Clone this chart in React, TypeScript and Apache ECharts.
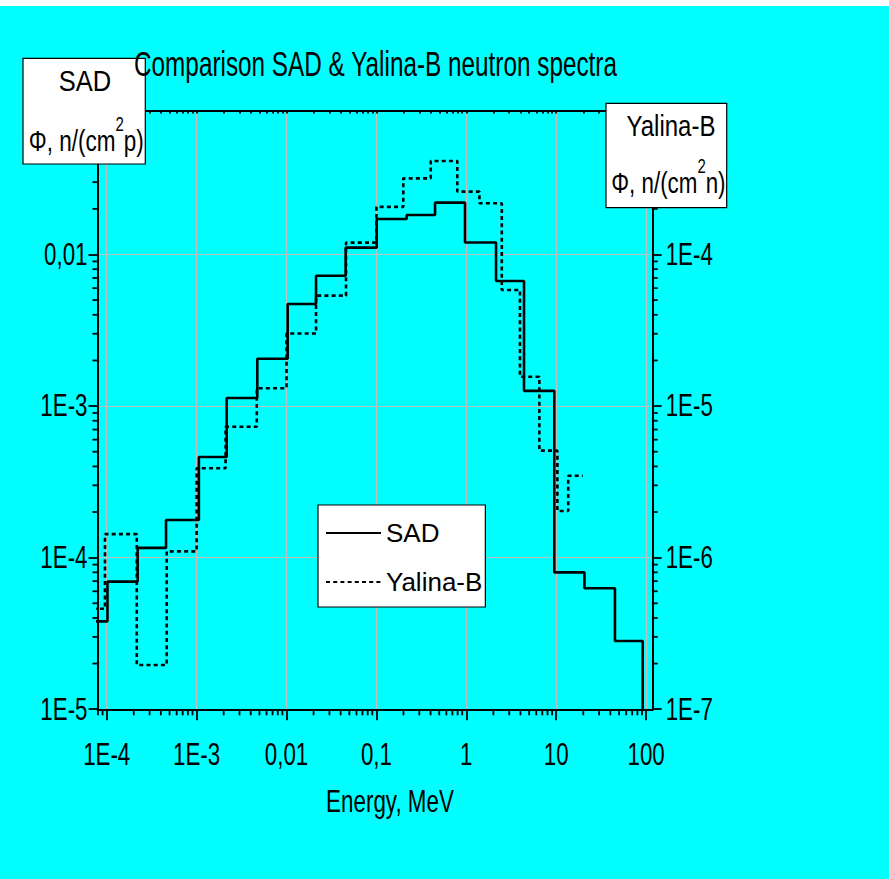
import React, { useEffect, useRef } from 'react';
import * as echarts from 'echarts';

// ---- axis ranges ----
const X_MIN = 7.9e-5;
const X_MAX = 118.3;
const Y_MIN = 9.99e-6; // left axis: SAD, n/(cm2 p)
const Y_MAX = 0.0891;
const Y2_MIN = 9.99e-8; // right axis: Yalina-B, n/(cm2 n)
const Y2_MAX = 8.91e-4;

// ---- tick labels ----
const xTickValues = [1e-4, 1e-3, 0.01, 0.1, 1, 10, 100];
const xTickLabels = ['1E-4', '1E-3', '0,01', '0,1', '1', '10', '100'];
const yTickValues = [1e-5, 1e-4, 1e-3, 0.01];
const yTickLabels = ['1E-5', '1E-4', '1E-3', '0,01'];
const y2TickValues = [1e-7, 1e-6, 1e-5, 1e-4];
const y2TickLabels = ['1E-7', '1E-6', '1E-5', '1E-4'];
const minorSteps = [2, 3, 4, 5, 6, 7, 8, 9];
const decades = [-6, -5, -4, -3, -2, -1, 0, 1, 2];

// ---- SAD spectrum (group boundaries, MeV, and flux per group) ----
const sadEdges = [7.0e-5, 1.02e-4, 2.21e-4, 4.57e-4, 1.06e-3, 2.16e-3, 4.73e-3, 0.0103, 0.0213, 0.0455, 0.1007, 0.217, 0.449, 0.967, 2.14, 4.38, 9.52, 20.6, 45, 91.6];
const sadFlux = [3.8e-5, 6.95e-5, 1.16e-4, 1.77e-4, 4.61e-4, 1.13e-3, 2.05e-3, 4.71e-3, 7.24e-3, 0.0111, 0.01714, 0.0182, 0.022, 0.012, 6.68e-3, 1.26e-3, 8.0e-5, 6.28e-5, 2.82e-5];
const sadTail = 1e-8;

// ---- Yalina-B spectrum ----
const yalEdges = [7.0e-5, 9.57e-5, 2.16e-4, 4.65e-4, 1.0e-3, 2.1e-3, 4.67e-3, 0.01, 0.0213, 0.0459, 0.1, 0.199, 0.402, 0.794, 1.4, 2.48, 3.95, 6.49, 10.3, 13.6, 19.7];
const yalFlux = [4.6e-7, 1.43e-6, 1.96e-7, 1.1e-6, 3.89e-6, 7.31e-6, 1.31e-5, 3.01e-5, 5.35e-5, 1.197e-4, 2.06e-4, 3.18e-4, 4.14e-4, 2.6e-4, 2.18e-4, 5.83e-5, 1.56e-5, 5.08e-6, 2.03e-6, 3.47e-6];

const SANS = "'Liberation Sans', Arial, sans-serif";
const LABEL_SIZE = 31;
const LABEL_SCALE = 0.72;

function stepData(edges: number[], flux: number[], tail: number) {
  return edges.map((e, i) => [e, i < flux.length ? flux[i] : tail]);
}

function minorTicks(lo: number, hi: number) {
  const out: number[] = [];
  decades.forEach((d) => {
    minorSteps.forEach((k) => {
      const v = k * Math.pow(10, d);
      if (v > lo && v < hi) out.push(v);
    });
  });
  return out;
}

const xMinor = minorTicks(X_MIN, X_MAX);
const yMinor = minorTicks(Y_MIN, Y_MAX);

const axisLine = { show: true, onZero: false, lineStyle: { color: '#000', width: 2 } };
const tickStyle = { color: '#000', width: 1.8 };

function labelText(text: string, x: number, y: number, align: string) {
  return {
    type: 'text',
    x,
    y,
    scaleX: LABEL_SCALE,
    style: {
      text,
      fontSize: LABEL_SIZE,
      fontFamily: SANS,
      fill: '#000',
      align,
      textAlign: align,
      verticalAlign: 'middle',
      textVerticalAlign: 'middle',
    },
  };
}

function textEl(text: string, x: number, y: number, size: number, sx: number) {
  return {
    type: 'text',
    x,
    y,
    scaleX: sx,
    z: 110,
    silent: true,
    style: {
      text,
      fontSize: size,
      fontFamily: SANS,
      fill: '#000',
      align: 'center',
      verticalAlign: 'middle',
      textAlign: 'center',
      textVerticalAlign: 'middle',
    },
  };
}

function unitEl(text: string, x: number, y: number, sx: number) {
  return {
    type: 'text',
    x,
    y,
    scaleX: sx,
    z: 110,
    silent: true,
    style: {
      text,
      fill: '#000',
      align: 'center',
      verticalAlign: 'middle',
      textAlign: 'center',
      textVerticalAlign: 'middle',
      rich: {
        m: { fontSize: 30, fontFamily: SANS, lineHeight: 42, verticalAlign: 'bottom', fill: '#000' },
        s: { fontSize: 20, fontFamily: SANS, lineHeight: 42, verticalAlign: 'top', fill: '#000' },
      },
    },
  };
}

export default function App() {
  const ref = useRef<HTMLDivElement>(null);
  useEffect(() => {
    const chart = echarts.init(ref.current!, null, { renderer: 'svg' });
    const option: any = {
      animation: false,
      backgroundColor: '#00FFFF',
      grid: {
        left: 97.5,
        top: 110.5,
        right: 236.3,
        bottom: 169.7,
        containLabel: false,
        outerBoundsMode: 'none',
      },
      legend: {
        data: ['SAD', 'Yalina-B'],
        orient: 'vertical',
        left: 318,
        top: 505,
        backgroundColor: '#fff',
        borderColor: '#000',
        borderWidth: 1.2,
        borderRadius: 0,
        padding: [15, 3, 12, 7],
        itemGap: 23,
        itemWidth: 55,
        itemHeight: 14,
        selectedMode: false,
        itemStyle: { opacity: 0 },
        textStyle: { fontSize: 26, fontFamily: SANS, color: '#000' },
        z: 20,
      },
      xAxis: [
        {
          type: 'log',
          logBase: 10,
          min: X_MIN,
          max: X_MAX,
          position: 'bottom',
          axisLine,
          axisTick: { show: true, inside: false, length: 11, customValues: xTickValues, lineStyle: tickStyle },
          axisLabel: { show: false },
          splitLine: { show: true, lineStyle: { color: '#c0c0c0', width: 1 } },
          minorTick: { show: false },
          minorSplitLine: { show: false },
        },
        {
          type: 'log',
          logBase: 10,
          min: X_MIN,
          max: X_MAX,
          position: 'top',
          axisLine,
          axisTick: { show: true, inside: true, length: 3, customValues: [...xTickValues, ...xMinor], lineStyle: tickStyle },
          axisLabel: { show: false },
          splitLine: { show: false },
        },
      ],
      yAxis: [
        {
          type: 'log',
          logBase: 10,
          min: Y_MIN,
          max: Y_MAX,
          position: 'left',
          axisLine,
          axisTick: { show: true, inside: false, length: 9, customValues: yTickValues, lineStyle: tickStyle },
          axisLabel: { show: false },
          splitLine: { show: true, lineStyle: { color: '#c0c0c0', width: 1 } },
        },
        {
          type: 'log',
          logBase: 10,
          min: Y2_MIN,
          max: Y2_MAX,
          position: 'right',
          axisLine,
          axisTick: { show: true, inside: false, length: 9, customValues: y2TickValues, lineStyle: tickStyle },
          axisLabel: { show: false },
          splitLine: { show: false },
        },
      ],
      series: [
        {
          name: 'SAD',
          type: 'line',
          xAxisIndex: 0,
          yAxisIndex: 0,
          step: 'end',
          symbol: 'none',
          showSymbol: false,
          clip: true,
          data: stepData(sadEdges, sadFlux, sadTail),
          lineStyle: { color: '#000', width: 2.6, type: 'solid' },
          itemStyle: { color: '#000' },
          emphasis: { disabled: true },
          z: 3,
        },
        {
          name: 'Yalina-B',
          type: 'line',
          xAxisIndex: 0,
          yAxisIndex: 1,
          step: 'end',
          symbol: 'none',
          showSymbol: false,
          clip: true,
          data: stepData(yalEdges, yalFlux, yalFlux[yalFlux.length - 1]),
          lineStyle: { color: '#000', width: 2.6, type: [4, 3.2] },
          itemStyle: { color: '#000' },
          emphasis: { disabled: true },
          z: 4,
        },
        {
          name: 'xMinorTicks',
          type: 'custom',
          xAxisIndex: 0,
          yAxisIndex: 0,
          silent: true,
          clip: false,
          z: 5,
          data: xMinor.map((v) => [v, Y_MIN]),
          renderItem: (_p: any, api: any) => {
            const b = api.coord([api.value(0), Y_MIN]);
            return {
              type: 'line',
              shape: { x1: b[0], y1: b[1], x2: b[0], y2: b[1] + 6 },
              style: { stroke: '#000', lineWidth: 1.8 },
            };
          },
        },
        {
          name: 'yMinorTicks',
          type: 'custom',
          xAxisIndex: 0,
          yAxisIndex: 0,
          silent: true,
          clip: false,
          z: 5,
          data: yMinor.map((v) => [X_MIN, v]),
          renderItem: (_p: any, api: any) => {
            const l = api.coord([X_MIN, api.value(1)]);
            const r = api.coord([X_MAX, api.value(1)]);
            return {
              type: 'group',
              children: [
                { type: 'line', shape: { x1: l[0] - 5, y1: l[1], x2: l[0], y2: l[1] }, style: { stroke: '#000', lineWidth: 1.8 } },
                { type: 'line', shape: { x1: r[0], y1: r[1], x2: r[0] + 5, y2: r[1] }, style: { stroke: '#000', lineWidth: 1.8 } },
              ],
            };
          },
        },
        {
          name: 'xLabels',
          type: 'custom',
          xAxisIndex: 0,
          yAxisIndex: 0,
          silent: true,
          clip: false,
          z: 5,
          data: xTickValues.map((v) => [v, Y_MIN]),
          renderItem: (p: any, api: any) => {
            const b = api.coord([api.value(0), Y_MIN]);
            return labelText(xTickLabels[p.dataIndex], b[0], b[1] + 45, 'center');
          },
        },
        {
          name: 'yLabels',
          type: 'custom',
          xAxisIndex: 0,
          yAxisIndex: 0,
          silent: true,
          clip: false,
          z: 5,
          data: yTickValues.map((v) => [X_MIN, v]),
          renderItem: (p: any, api: any) => {
            const l = api.coord([X_MIN, api.value(1)]);
            return labelText(yTickLabels[p.dataIndex], l[0] - 10, l[1], 'right');
          },
        },
        {
          name: 'y2Labels',
          type: 'custom',
          xAxisIndex: 0,
          yAxisIndex: 1,
          silent: true,
          clip: false,
          z: 5,
          data: y2TickValues.map((v) => [X_MAX, v]),
          renderItem: (p: any, api: any) => {
            const r = api.coord([X_MAX, api.value(1)]);
            return labelText(y2TickLabels[p.dataIndex], r[0] + 13, r[1], 'left');
          },
        },
      ],
      graphic: [
        { type: 'rect', z: 1, silent: true, shape: { x: 0, y: 0, width: 889, height: 6 }, style: { fill: '#fff' } },
        textEl('Comparison SAD & Yalina-B neutron spectra', 375.5, 64, 35, 0.695),
        { type: 'rect', z: 100, silent: true, shape: { x: 23, y: 58.3, width: 122.3, height: 105.7 }, style: { fill: '#fff', stroke: '#000', lineWidth: 1.2 } },
        textEl('SAD', 85, 81, 30, 0.85),
        unitEl('{m|Φ, n/(cm}{s|2}{m|p)}', 86.3, 135, 0.75),
        { type: 'rect', z: 100, silent: true, shape: { x: 606, y: 103.3, width: 120.7, height: 104.4 }, style: { fill: '#fff', stroke: '#000', lineWidth: 1.2 } },
        textEl('Yalina-B', 671, 126, 30, 0.8),
        unitEl('{m|Φ, n/(cm}{s|2}{m|n)}', 668.4, 177, 0.745),
        textEl('Energy, MeV', 390, 800.7, 32, 0.7),
      ],
    };
    chart.setOption(option);
    return () => chart.dispose();
  }, []);
  return <div ref={ref} style={{ position: 'fixed', left: 0, top: 0, width: 889, height: 879 }} />;
}
